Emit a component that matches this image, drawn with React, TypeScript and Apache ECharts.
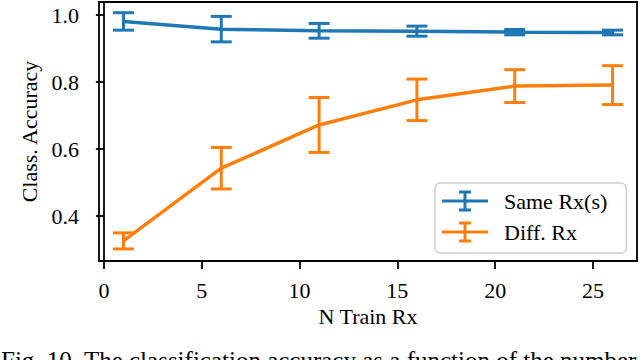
import React, { useEffect, useRef } from "react";
import * as echarts from "echarts";

const xValues = [1, 6, 11, 16, 21, 26];
const sameMean = [0.981, 0.958, 0.953, 0.952, 0.949, 0.948];
const sameErr = [0.026, 0.038, 0.022, 0.015, 0.008, 0.007];
const diffMean = [0.326, 0.543, 0.672, 0.747, 0.788, 0.791];
const diffErr = [0.024, 0.062, 0.082, 0.062, 0.049, 0.058];
const xTicks = [0, 5, 10, 15, 20, 25];
const yTicks = [0.4, 0.6, 0.8, 1.0];
const seriesNames = ["Same Rx(s)", "Diff. Rx"];
const caption = "Fig. 10. The classification accuracy as a function of the number";

const BLUE = "#1f77b4";
const ORANGE = "#ff7f0e";
const FONT = "'Liberation Serif', 'DejaVu Serif', serif";
const FS = 22;
const ICON =
  "path://M0,9H46V12H0Z M21.5,0H24.5V21H21.5Z M17,0H29V3H17Z M17,18H29V21H17Z";

function errData(mean: number[], err: number[]) {
  return xValues.map((x, i) => [x, mean[i] - err[i], mean[i] + err[i]]);
}

function errSeries(name: string, color: string, mean: number[], err: number[]) {
  return {
    type: "custom",
    name,
    data: errData(mean, err),
    encode: { x: 0, y: [1, 2] },
    z: 3,
    renderItem: (params: any, api: any) => {
      const x = api.value(0);
      const lo = api.coord([x, api.value(1)]);
      const hi = api.coord([x, api.value(2)]);
      const cw = 10.5;
      const style = { stroke: color, lineWidth: 3, fill: "none" };
      return {
        type: "group",
        children: [
          { type: "line", shape: { x1: lo[0], y1: lo[1], x2: hi[0], y2: hi[1] }, style },
          { type: "line", shape: { x1: lo[0] - cw, y1: lo[1], x2: lo[0] + cw, y2: lo[1] }, style },
          { type: "line", shape: { x1: hi[0] - cw, y1: hi[1], x2: hi[0] + cw, y2: hi[1] }, style },
        ],
      };
    },
  };
}

export default function App() {
  const ref = useRef<HTMLDivElement>(null);
  useEffect(() => {
    const chart = echarts.init(ref.current!, null, { renderer: "svg" });
    const lineData = (m: number[]) => xValues.map((x, i) => [x, m[i]]);
    const txt = { fontFamily: FONT, fontSize: FS, color: "#000" };
    chart.setOption({
      animation: false,
      textStyle: { fontFamily: FONT },
      grid: {
        left: 99,
        right: 3,
        top: 2,
        bottom: 99,
        show: true,
        borderColor: "#000",
        borderWidth: 1.8,
        backgroundColor: "transparent",
      },
      xAxis: {
        type: "value",
        min: -0.25,
        max: 27.25,
        name: "N Train Rx",
        nameLocation: "middle",
        nameGap: 44,
        nameTextStyle: { ...txt },
        axisLine: { show: true, lineStyle: { color: "#000", width: 1.8 } },
        axisTick: {
          show: true,
          length: 8,
          customValues: xTicks,
          lineStyle: { color: "#000", width: 1.8 },
        },
        axisLabel: {
          customValues: xTicks,
          ...txt,
          margin: 18,
        },
        splitLine: { show: false },
      },
      yAxis: {
        type: "value",
        min: 0.266,
        max: 1.039,
        name: "Class. Accuracy",
        nameLocation: "middle",
        nameGap: 58,
        nameTextStyle: { ...txt },
        axisLine: { show: true, lineStyle: { color: "#000", width: 1.8 } },
        axisTick: {
          show: true,
          length: 8,
          customValues: yTicks,
          lineStyle: { color: "#000", width: 1.8 },
        },
        axisLabel: {
          customValues: yTicks,
          ...txt,
          margin: 20,
          formatter: (v: number) => v.toFixed(1),
        },
        splitLine: { show: false },
      },
      legend: {
        orient: "vertical",
        left: 435,
        top: 183,
        padding: [7, 19, 10, 7],
        itemWidth: 46,
        itemHeight: 21,
        itemGap: 9,
        backgroundColor: "rgba(255,255,255,0.8)",
        borderColor: "#d0d0d0",
        borderWidth: 1.5,
        borderRadius: 5,
        textStyle: { ...txt, padding: [0, 0, 0, 11] },
        data: [
          { name: seriesNames[0], icon: ICON, itemStyle: { color: BLUE } },
          { name: seriesNames[1], icon: ICON, itemStyle: { color: ORANGE } },
        ],
      },
      graphic: [
        {
          type: "text",
          left: 1,
          top: 348,
          style: { text: caption, fontFamily: FONT, fontSize: 25, fill: "#000" },
        },
      ],
      series: [
        errSeries(seriesNames[0], BLUE, sameMean, sameErr),
        {
          type: "line",
          name: seriesNames[0],
          data: lineData(sameMean),
          showSymbol: false,
          symbol: "none",
          lineStyle: { color: BLUE, width: 3.5 },
          itemStyle: { color: BLUE },
          z: 4,
        },
        errSeries(seriesNames[1], ORANGE, diffMean, diffErr),
        {
          type: "line",
          name: seriesNames[1],
          data: lineData(diffMean),
          showSymbol: false,
          symbol: "none",
          lineStyle: { color: ORANGE, width: 3.5 },
          itemStyle: { color: ORANGE },
          z: 4,
        },
      ],
    });
    return () => chart.dispose();
  }, []);
  return (
    <div
      ref={ref}
      style={{ position: "fixed", left: 0, top: 0, width: 640, height: 360, background: "#fff" }}
    />
  );
}
